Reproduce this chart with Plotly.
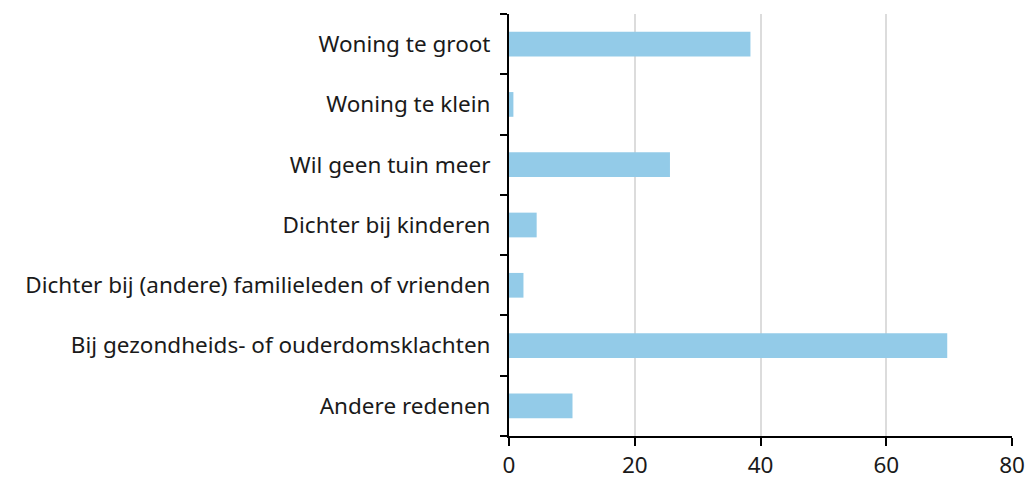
import plotly.graph_objects as go

categories = [
    "Woning te groot",
    "Woning te klein",
    "Wil geen tuin meer",
    "Dichter bij kinderen",
    "Dichter bij (andere) familieleden of vrienden",
    "Bij gezondheids- of ouderdomsklachten",
    "Andere redenen",
]
values = [38.4, 0.7, 25.6, 4.4, 2.3, 69.7, 10.1]
x_ticks = [0, 20, 40, 60, 80]

fig = go.Figure(
    go.Bar(
        x=values,
        y=categories,
        orientation="h",
        marker=dict(color="#93CBE8", line=dict(width=0)),
        width=0.41,
    )
)

fig.update_layout(
    width=1028,
    height=481,
    margin=dict(l=509, r=16, t=14, b=45, autoexpand=False),
    paper_bgcolor="white",
    plot_bgcolor="white",
    font=dict(family="Noto Sans, Open Sans, sans-serif", size=22.5, color="#1a1a1a"),
    showlegend=False,
)

fig.update_xaxes(
    range=[0, 80],
    tickvals=x_ticks,
    showgrid=True,
    gridcolor="#dcdcdc",
    gridwidth=2,
    showline=True,
    linecolor="black",
    linewidth=2,
    ticks="outside",
    ticklen=8,
    tickwidth=2,
    tickcolor="black",
    zeroline=False,
    automargin=False,
    tickfont=dict(size=22.5),
)

fig.update_yaxes(
    categoryorder="array",
    categoryarray=categories[::-1],
    showline=True,
    linecolor="black",
    linewidth=2,
    ticks="outside",
    tickson="boundaries",
    ticklen=7,
    tickwidth=2,
    tickcolor="black",
    showgrid=False,
    automargin=False,
    ticklabelstandoff=12,
    tickfont=dict(size=22.5),
)

fig.write_html(
    "out.html",
    config={"displayModeBar": False},
    post_script="document.body.style.margin='0';document.body.style.overflow='hidden';",
)
